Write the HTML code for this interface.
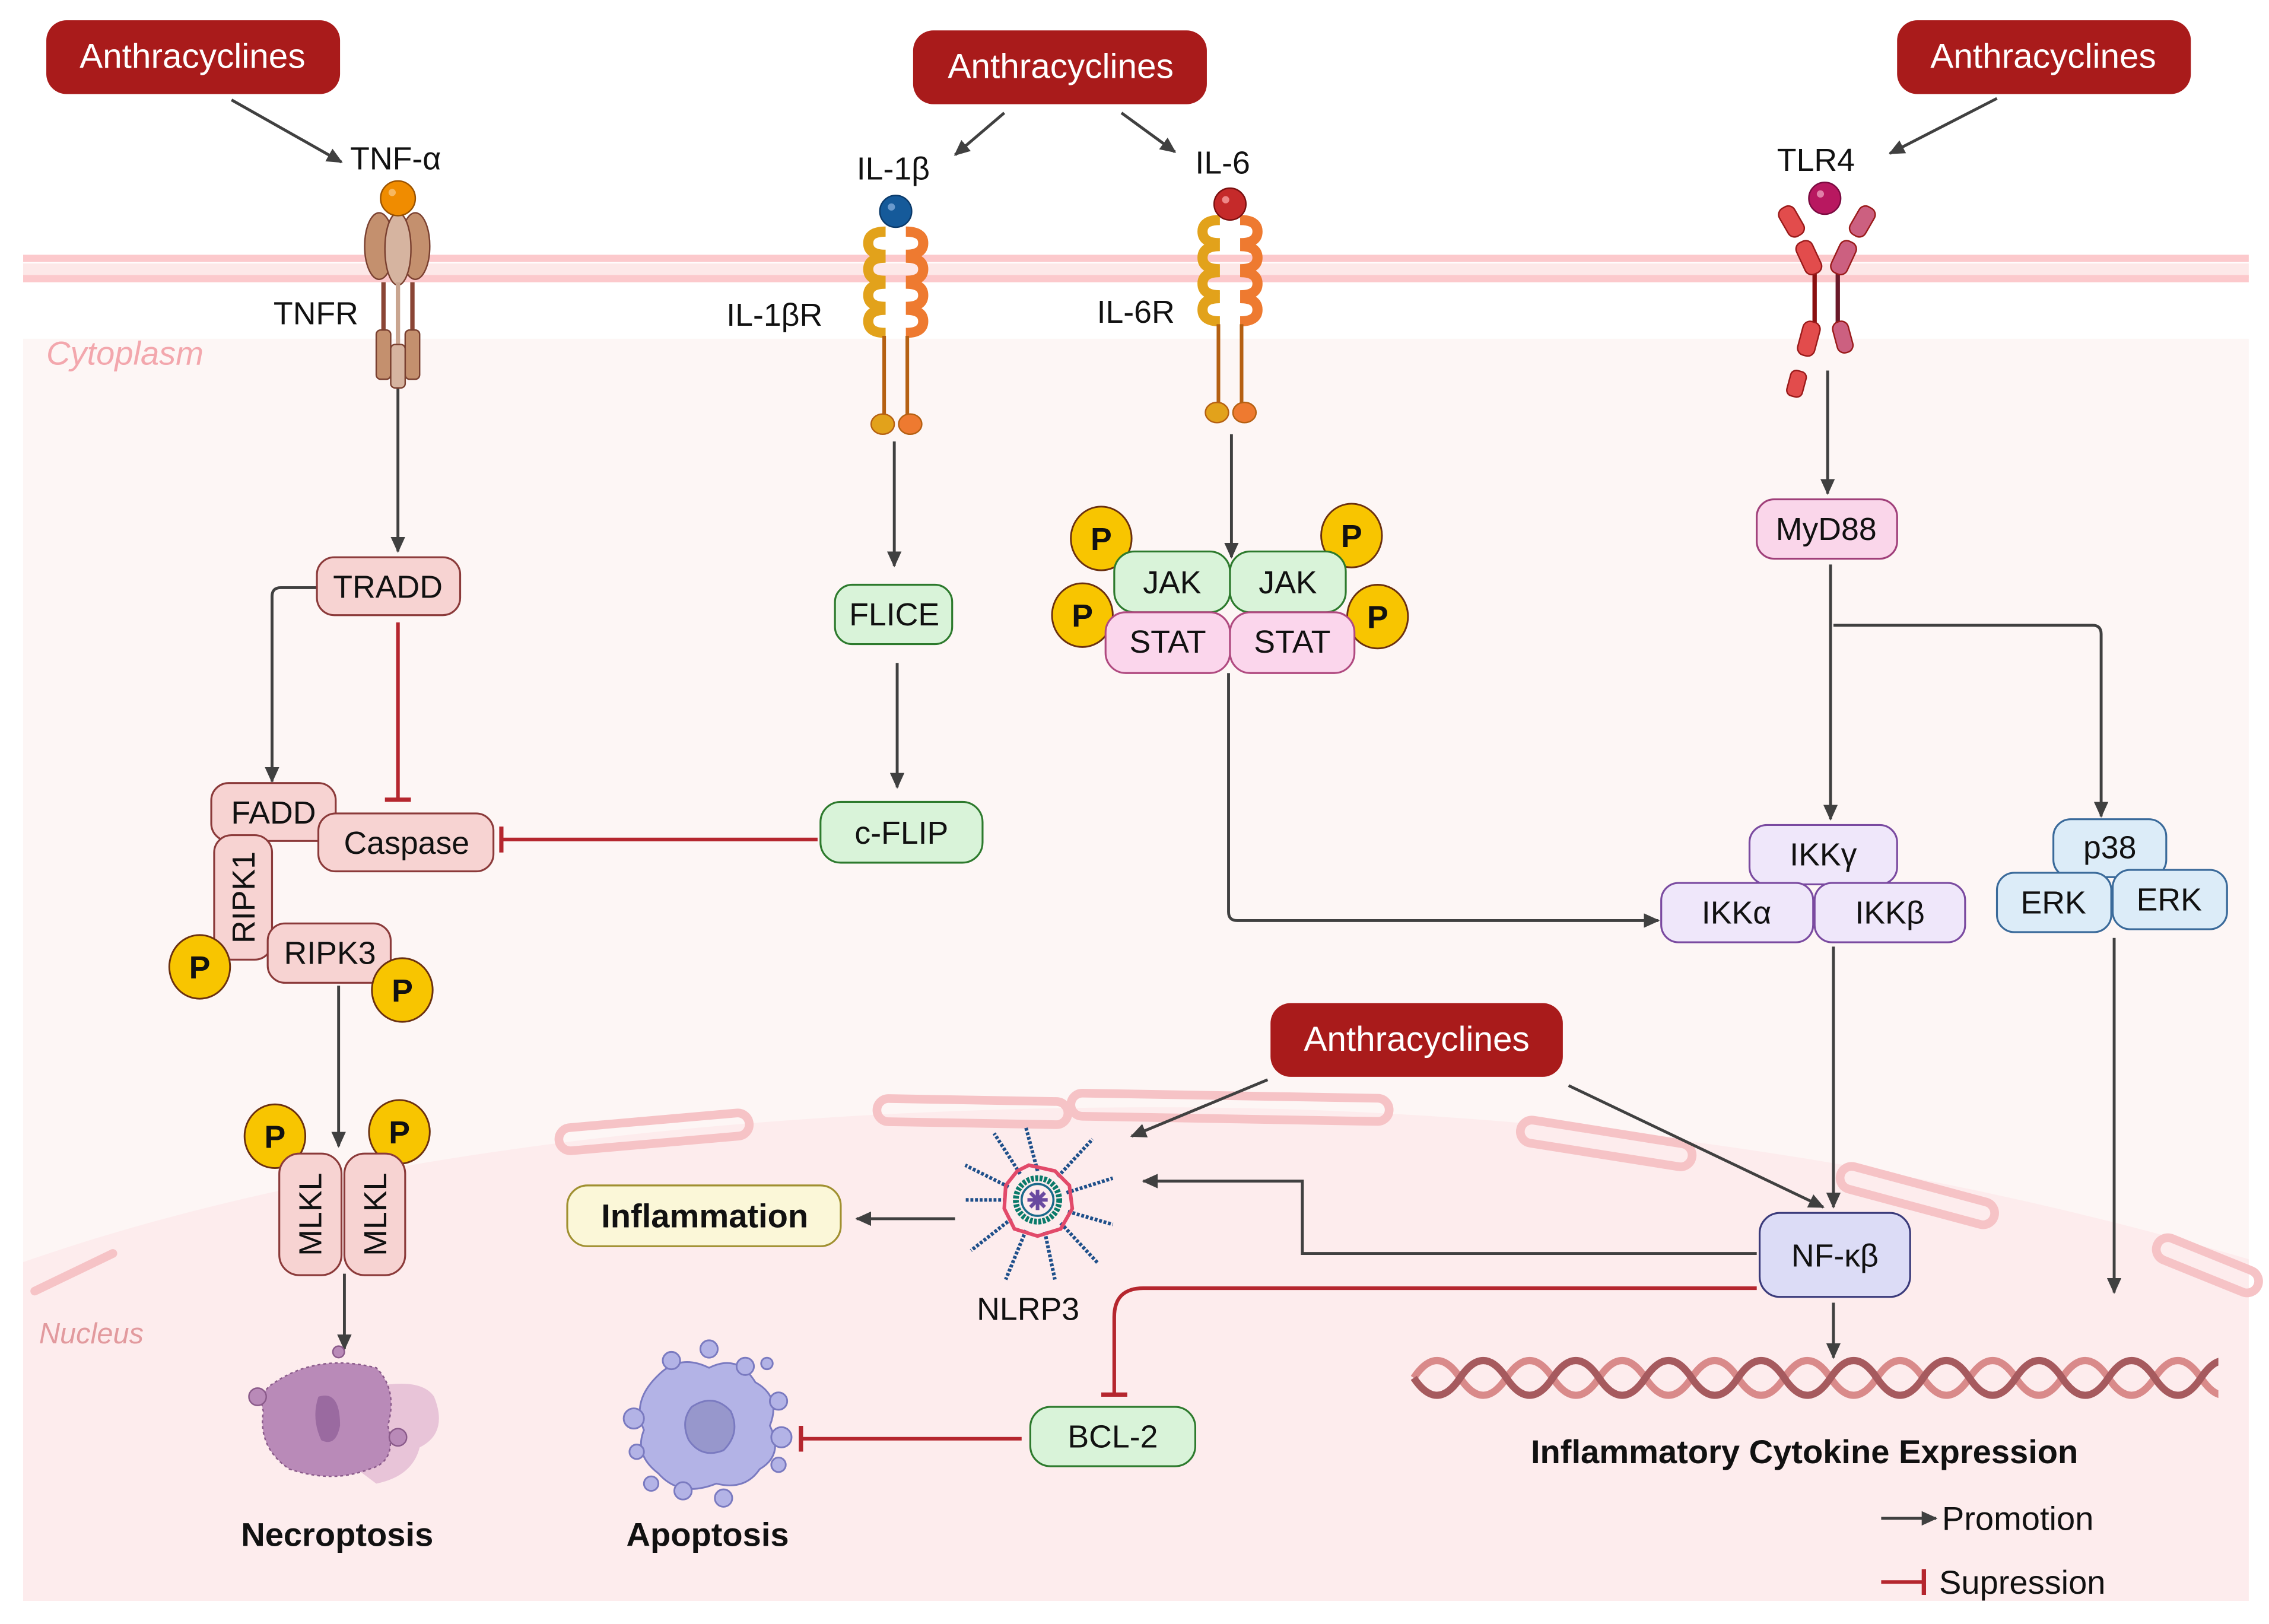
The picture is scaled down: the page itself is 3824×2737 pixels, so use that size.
<!DOCTYPE html>
<html><head><meta charset="utf-8"><style>
html,body{margin:0;padding:0;background:#fff}
svg{display:block}
text{font-family:"Liberation Sans",sans-serif}
</style></head><body>
<svg width="3824" height="2737" viewBox="0 0 1568 1122" preserveAspectRatio="none" xmlns="http://www.w3.org/2000/svg">
<defs>
<marker id="ar" markerWidth="12" markerHeight="10" refX="10" refY="5" orient="auto" markerUnits="userSpaceOnUse"><path d="M0,0 L11,5 L0,10 z" fill="#404040"/></marker>
<marker id="inh" markerWidth="4" markerHeight="18" refX="2" refY="9" orient="auto" markerUnits="userSpaceOnUse"><rect x="0" y="0" width="3" height="18" fill="#b5262e"/></marker>
<clipPath id="dnaclip"><rect x="975" y="920" width="558" height="60"/></clipPath>
</defs>
<rect width="1568" height="1122" fill="#fff"/>
<rect x="16" y="234" width="1538" height="872" fill="#fdf6f5"/>
<path d="M16,872 C250,790 550,765 800,765 C1100,765 1350,810 1554,870 L1554,1106 L16,1106 z" fill="#fdeced"/>
<g fill="none" stroke="#f6c3c6" stroke-width="6">
<path d="M24,892 L78,866" stroke-linecap="round"/>
<rect x="386" y="774" width="132" height="16" rx="8" transform="rotate(-5 452 782)"/>
<rect x="606" y="760" width="132" height="16" rx="8" transform="rotate(1 672 768)"/>
<rect x="740" y="757" width="220" height="16" rx="8" transform="rotate(1 850 765)"/>
<rect x="1050" y="782" width="120" height="16" rx="8" transform="rotate(9 1110 790)"/>
<rect x="1270" y="818" width="110" height="16" rx="8" transform="rotate(15 1325 826)"/>
<rect x="1488" y="866" width="75" height="16" rx="8" transform="rotate(22 1525 874)"/>
</g>
<rect x="16" y="182" width="1538" height="10" fill="#fde8e8"/>
<rect x="16" y="176" width="1538" height="5" fill="#fcc9cc"/>
<rect x="16" y="190" width="1538" height="5" fill="#fcc9cc"/>
<text x="32" y="252" font-size="23" font-style="italic" fill="#f3a7ad">Cytoplasm</text>
<text x="27" y="928" font-size="20" font-style="italic" fill="#e29a9e">Nucleus</text>

<g font-size="24" fill="#fff" text-anchor="middle">
<rect x="32" y="14" width="203" height="51" rx="14" fill="#a91b1b"/><text x="133" y="47">Anthracyclines</text>
<rect x="631" y="21" width="203" height="51" rx="14" fill="#a91b1b"/><text x="733" y="54">Anthracyclines</text>
<rect x="1311" y="14" width="203" height="51" rx="14" fill="#a91b1b"/><text x="1412" y="47">Anthracyclines</text>
<rect x="878" y="693" width="202" height="51" rx="14" fill="#a91b1b"/><text x="979" y="726">Anthracyclines</text>
</g>

<g stroke="#404040" stroke-width="2" fill="none" marker-end="url(#ar)">
<line x1="160" y1="69" x2="236" y2="112"/>
<line x1="694" y1="78" x2="660" y2="107"/>
<line x1="775" y1="78" x2="812" y2="105"/>
<line x1="1380" y1="68" x2="1306" y2="106"/>
<line x1="275" y1="268" x2="275" y2="381"/>
<path d="M219,406 L194,406 Q188,406 188,412 L188,540"/>
<line x1="618" y1="305" x2="618" y2="391"/>
<line x1="620" y1="458" x2="620" y2="544"/>
<line x1="851" y1="300" x2="851" y2="385"/>
<line x1="1263" y1="256" x2="1263" y2="341"/>
<line x1="1265" y1="390" x2="1265" y2="566"/>
<path d="M1267,432 L1446,432 Q1452,432 1452,438 L1452,564"/>
<path d="M849,465 L849,630 Q849,636 855,636 L1146,636"/>
<line x1="1267" y1="654" x2="1267" y2="834"/>
<line x1="1461" y1="648" x2="1461" y2="893"/>
<line x1="1084" y1="750" x2="1260" y2="834"/>
<line x1="876" y1="746" x2="782" y2="785"/>
<path d="M1214,866 L900,866 L900,816 L790,816"/>
<line x1="660" y1="842" x2="592" y2="842"/>
<line x1="1267" y1="900" x2="1267" y2="938"/>
<line x1="234" y1="681" x2="234" y2="792"/>
<line x1="238" y1="880" x2="238" y2="932"/>
<line x1="1300" y1="1049" x2="1338" y2="1049"/>
</g>
<g stroke="#b5262e" stroke-width="2.5" fill="none" marker-end="url(#inh)">
<line x1="275" y1="430" x2="275" y2="553"/>
<line x1="565" y1="580" x2="346" y2="580"/>
<path d="M1214,890 L790,890 Q770,890 770,910 L770,964"/>
<line x1="706" y1="994" x2="553" y2="994"/>
<line x1="1300" y1="1093" x2="1330" y2="1093"/>
</g>

<g stroke="#7a4030" stroke-width="1">
<ellipse cx="262" cy="170" rx="10" ry="23" fill="#c4906e"/>
<ellipse cx="287" cy="170" rx="10" ry="23" fill="#c4906e"/>
<ellipse cx="275" cy="172" rx="9" ry="25" fill="#d6b4a0"/>
<line x1="265" y1="195" x2="265" y2="232" stroke="#8a4535" stroke-width="3"/>
<line x1="285" y1="195" x2="285" y2="232" stroke="#8a4535" stroke-width="3"/>
<line x1="275" y1="195" x2="275" y2="240" stroke="#c9a590" stroke-width="3"/>
<rect x="260" y="228" width="10" height="34" rx="3" fill="#c4906e"/>
<rect x="280" y="228" width="10" height="34" rx="3" fill="#c4906e"/>
<rect x="270" y="238" width="10" height="30" rx="3" fill="#d6b4a0"/>
</g>
<circle cx="275" cy="137" r="12" fill="#f08c00" stroke="#9a5200"/>
<circle cx="271" cy="133" r="2.5" fill="#f7b860"/>

<g id="ilr" fill="none" stroke-width="7">
<path d="M612,160 Q600,160 600,168 Q600,176 612,176 M612,178 Q600,178 600,186 Q600,194 612,194 M612,196 Q600,196 600,204 Q600,212 612,212 M612,214 Q600,214 600,222 Q600,230 612,230" stroke="#e2a21b"/>
<path d="M626,160 Q638,160 638,168 Q638,176 626,176 M626,178 Q638,178 638,186 Q638,194 626,194 M626,196 Q638,196 638,204 Q638,212 626,212 M626,214 Q638,214 638,222 Q638,230 626,230" stroke="#ee7a30"/>
<line x1="611" y1="232" x2="611" y2="288" stroke="#b56012" stroke-width="2.5"/>
<line x1="627" y1="232" x2="627" y2="288" stroke="#b56012" stroke-width="2.5"/>
<ellipse cx="610" cy="293" rx="8" ry="7" fill="#e2a21b" stroke="#b56012" stroke-width="1"/>
<ellipse cx="629" cy="293" rx="8" ry="7" fill="#ee7a30" stroke="#b56012" stroke-width="1"/>
</g>
<circle cx="619" cy="146" r="11" fill="#155a9a" stroke="#0b3a6a"/>
<circle cx="616" cy="143" r="2.5" fill="#6a9acd"/>
<use href="#ilr" x="231" y="-8"/>
<circle cx="850" cy="141" r="11" fill="#c52a2a" stroke="#7a1010"/>
<circle cx="847" cy="138" r="2.5" fill="#e88"/>

<g stroke="#9a1a1a" stroke-width="1">
<line x1="1254" y1="185" x2="1254" y2="225" stroke="#8a0f0f" stroke-width="3"/>
<line x1="1270" y1="185" x2="1270" y2="225" stroke="#6a1a2a" stroke-width="3"/>
<rect x="1232" y="142" width="12" height="22" rx="5" fill="#e24c4c" transform="rotate(-30 1238 153)"/>
<rect x="1244" y="166" width="12" height="24" rx="5" fill="#e24c4c" transform="rotate(-25 1250 178)"/>
<rect x="1281" y="142" width="12" height="22" rx="5" fill="#cc6080" transform="rotate(30 1287 153)"/>
<rect x="1268" y="166" width="12" height="24" rx="5" fill="#cc6080" transform="rotate(25 1274 178)"/>
<rect x="1244" y="222" width="12" height="24" rx="5" fill="#e24c4c" transform="rotate(15 1250 234)"/>
<rect x="1268" y="222" width="11" height="22" rx="5" fill="#cc6080" transform="rotate(-15 1273 233)"/>
<rect x="1236" y="256" width="11" height="18" rx="4" fill="#e24c4c" transform="rotate(15 1241 265)"/>
</g>
<circle cx="1261" cy="137" r="11" fill="#b81860" stroke="#7a0a40"/>
<circle cx="1258" cy="134" r="2.5" fill="#e080a8"/>

<g font-size="22" fill="#111">
<text x="242" y="117">TNF-α</text>
<text x="189" y="224">TNFR</text>
<text x="592" y="124">IL-1β</text>
<text x="502" y="225">IL-1βR</text>
<text x="826" y="120">IL-6</text>
<text x="758" y="223">IL-6R</text>
<text x="1228" y="118">TLR4</text>
<text x="675" y="912">NLRP3</text>
</g>

<g font-size="22" fill="#111" text-anchor="middle" stroke-width="1.3">
<rect x="219" y="385" width="99" height="40" rx="12" fill="#f7d3d2" stroke="#8b3a3a"/><text x="268" y="413">TRADD</text>
<rect x="146" y="541" width="86" height="40" rx="12" fill="#f7d3d2" stroke="#8b3a3a"/><text x="189" y="569">FADD</text>
<rect x="148" y="577" width="40" height="86" rx="12" fill="#f7d3d2" stroke="#8b3a3a"/><text transform="translate(176 620) rotate(-90)">RIPK1</text>
<rect x="220" y="562" width="121" height="40" rx="12" fill="#f7d3d2" stroke="#8b3a3a"/><text x="281" y="590">Caspase</text>
<rect x="185" y="638" width="85" height="41" rx="12" fill="#f7d3d2" stroke="#8b3a3a"/><text x="228" y="666">RIPK3</text>
<rect x="577" y="404" width="81" height="41" rx="12" fill="#d9f3d9" stroke="#2d7a2d"/><text x="618" y="432">FLICE</text>
<rect x="567" y="554" width="112" height="42" rx="14" fill="#d9f3d9" stroke="#2d7a2d"/><text x="623" y="583">c-FLIP</text>
<rect x="712" y="972" width="114" height="41" rx="14" fill="#d9f3d9" stroke="#2d7a2d"/><text x="769" y="1000">BCL-2</text>
<rect x="1214" y="345" width="97" height="41" rx="12" fill="#fad6ea" stroke="#a0407a"/><text x="1262" y="373">MyD88</text>
<rect x="1209" y="570" width="102" height="41" rx="12" fill="#efe7fa" stroke="#7a4aa0"/><text x="1260" y="598">IKKγ</text>
<rect x="1148" y="610" width="105" height="41" rx="12" fill="#efe7fa" stroke="#7a4aa0"/><text x="1200" y="638">IKKα</text>
<rect x="1254" y="610" width="104" height="41" rx="12" fill="#efe7fa" stroke="#7a4aa0"/><text x="1306" y="638">IKKβ</text>
<rect x="1419" y="566" width="78" height="40" rx="12" fill="#dcecf8" stroke="#3a6a9a"/><text x="1458" y="593">p38</text>
<rect x="1380" y="603" width="79" height="41" rx="12" fill="#dcecf8" stroke="#3a6a9a"/><text x="1419" y="631">ERK</text>
<rect x="1460" y="601" width="79" height="41" rx="12" fill="#dcecf8" stroke="#3a6a9a"/><text x="1499" y="629">ERK</text>
<rect x="1216" y="838" width="104" height="58" rx="14" fill="#dcdcf6" stroke="#3a3a7a"/><text x="1268" y="875">NF-κβ</text>
</g>
<g stroke="#6a3010" stroke-width="1.2" fill="#f8c500">
<ellipse cx="761" cy="372" rx="21" ry="22"/><ellipse cx="934" cy="370" rx="21" ry="22"/>
<ellipse cx="748" cy="425" rx="21" ry="22"/><ellipse cx="952" cy="426" rx="21" ry="22"/>
<ellipse cx="138" cy="668" rx="21" ry="22"/><ellipse cx="278" cy="684" rx="21" ry="22"/>
<ellipse cx="190" cy="785" rx="21" ry="22"/><ellipse cx="276" cy="782" rx="21" ry="22"/>
</g>
<g font-size="22" fill="#111" text-anchor="middle" stroke-width="1.3">
<rect x="770" y="381" width="80" height="42" rx="14" fill="#d9f3d9" stroke="#2d7a2d"/><text x="810" y="410">JAK</text>
<rect x="850" y="381" width="80" height="42" rx="14" fill="#d9f3d9" stroke="#2d7a2d"/><text x="890" y="410">JAK</text>
<rect x="764" y="423" width="86" height="42" rx="14" fill="#fbd6ec" stroke="#b04a80"/><text x="807" y="451">STAT</text>
<rect x="850" y="423" width="86" height="42" rx="14" fill="#fbd6ec" stroke="#b04a80"/><text x="893" y="451">STAT</text>
<rect x="193" y="797" width="43" height="84" rx="14" fill="#f7d3d2" stroke="#8b3a3a"/><text transform="translate(222 839) rotate(-90)">MLKL</text>
<rect x="238" y="797" width="42" height="84" rx="14" fill="#f7d3d2" stroke="#8b3a3a"/><text transform="translate(267 839) rotate(-90)">MLKL</text>
</g>
<g font-size="22" font-weight="bold" fill="#111" text-anchor="middle">
<text x="761" y="380">P</text><text x="934" y="378">P</text><text x="748" y="433">P</text><text x="952" y="434">P</text>
<text x="138" y="676">P</text><text x="278" y="692">P</text><text x="190" y="793">P</text><text x="276" y="790">P</text>
</g>
<rect x="392" y="819" width="189" height="42" rx="14" fill="#fbf7d8" stroke="#a09030" stroke-width="1.3"/>
<text x="487" y="848" font-size="23" font-weight="bold" text-anchor="middle" fill="#111">Inflammation</text>

<g transform="translate(717 829)">
<g stroke="#1e4f8a" stroke-width="2.5" stroke-dasharray="2 1.2">
<line x1="0" y1="-20" x2="-8" y2="-50"/><line x1="14" y1="-16" x2="38" y2="-42"/><line x1="20" y1="-5" x2="52" y2="-15"/>
<line x1="21" y1="8" x2="52" y2="17"/><line x1="16" y1="16" x2="42" y2="44"/><line x1="5" y1="22" x2="12" y2="55"/>
<line x1="-8" y1="21" x2="-22" y2="55"/><line x1="-18" y1="13" x2="-46" y2="35"/><line x1="-22" y1="0" x2="-50" y2="0"/>
<line x1="-20" y1="-9" x2="-50" y2="-24"/><line x1="-12" y1="-18" x2="-30" y2="-46"/>
</g>
<polygon points="-6,-24 12,-20 22,-10 24,6 16,20 0,25 -16,20 -23,6 -22,-10 -14,-20" fill="none" stroke="#e24a6a" stroke-width="2.5"/>
<circle r="15" fill="none" stroke="#0a7a6a" stroke-width="4" stroke-dasharray="2 1"/>
<circle r="11" fill="#fdeced" stroke="#1a6a8a" stroke-width="1.5"/>
<g stroke="#6a4aa0" stroke-width="2.5"><line x1="-7" y1="0" x2="7" y2="0"/><line x1="0" y1="-7" x2="0" y2="7"/><line x1="-5" y1="-5" x2="5" y2="5"/><line x1="-5" y1="5" x2="5" y2="-5"/></g>
</g>

<g>
<path d="M250,960 Q290,950 300,965 Q310,990 290,1000 Q285,1020 260,1025 L240,1010 z" fill="#e8c4d8"/>
<path d="M190,955 Q220,935 260,945 Q275,960 268,985 Q275,1010 255,1015 Q230,1025 200,1015 Q178,1000 182,975 Q178,962 190,955 z" fill="#b98ab8" stroke="#8a5a8a" stroke-dasharray="2 2"/>
<path d="M220,965 Q235,960 235,985 Q232,1000 222,995 Q215,980 220,965 z" fill="#9a6aa0"/>
<circle cx="178" cy="965" r="6" fill="#b98ab8" stroke="#8a5a8a"/><circle cx="275" cy="993" r="6" fill="#b98ab8" stroke="#8a5a8a"/><circle cx="234" cy="934" r="4" fill="#b98ab8" stroke="#8a5a8a"/>
</g>
<g fill="#b3b3e6" stroke="#7a7ac0" stroke-width="1.2">
<path d="M455,950 Q470,935 490,945 Q510,935 522,955 Q540,965 532,985 Q542,1005 525,1015 Q515,1030 495,1025 Q470,1035 455,1018 Q438,1005 445,988 Q436,968 455,950 z"/>
<circle cx="464" cy="940" r="6"/><circle cx="490" cy="932" r="6"/><circle cx="515" cy="944" r="6"/><circle cx="530" cy="942" r="4"/>
<circle cx="438" cy="980" r="7"/><circle cx="538" cy="968" r="6"/><circle cx="540" cy="993" r="7"/><circle cx="440" cy="1003" r="5"/>
<circle cx="450" cy="1025" r="5"/><circle cx="472" cy="1030" r="6"/><circle cx="500" cy="1035" r="6"/><circle cx="538" cy="1012" r="5"/>
<path d="M478,972 Q493,962 505,975 Q512,990 500,1002 Q485,1008 476,995 Q470,982 478,972 z" fill="#9797cc"/>
</g>
<g font-size="23" font-weight="bold" fill="#111" text-anchor="middle">
<text x="233" y="1068">Necroptosis</text>
<text x="489" y="1068">Apoptosis</text>
<text x="1247" y="1011">Inflammatory Cytokine Expression</text>
</g>

<g fill="none" stroke-width="5" clip-path="url(#dnaclip)">
<path d="M977,952 q8,-12 16,-12 q8,0 16,12 q8,12 16,12 q8,0 16,-12 q8,-12 16,-12 q8,0 16,12 q8,12 16,12 q8,0 16,-12 q8,-12 16,-12 q8,0 16,12 q8,12 16,12 q8,0 16,-12 q8,-12 16,-12 q8,0 16,12 q8,12 16,12 q8,0 16,-12 q8,-12 16,-12 q8,0 16,12 q8,12 16,12 q8,0 16,-12 q8,-12 16,-12 q8,0 16,12 q8,12 16,12 q8,0 16,-12 q8,-12 16,-12 q8,0 16,12 q8,12 16,12 q8,0 16,-12 q8,-12 16,-12 q8,0 16,12 q8,12 16,12 q8,0 16,-12 q8,-12 16,-12 q8,0 16,12 q8,12 16,12 q8,0 16,-12 q8,-12 16,-12 q8,0 16,12 q8,12 16,12 q8,0 16,-12" stroke="#d98a8a"/>
<path d="M977,952 q8,12 16,12 q8,0 16,-12 q8,-12 16,-12 q8,0 16,12 q8,12 16,12 q8,0 16,-12 q8,-12 16,-12 q8,0 16,12 q8,12 16,12 q8,0 16,-12 q8,-12 16,-12 q8,0 16,12 q8,12 16,12 q8,0 16,-12 q8,-12 16,-12 q8,0 16,12 q8,12 16,12 q8,0 16,-12 q8,-12 16,-12 q8,0 16,12 q8,12 16,12 q8,0 16,-12 q8,-12 16,-12 q8,0 16,12 q8,12 16,12 q8,0 16,-12 q8,-12 16,-12 q8,0 16,12 q8,12 16,12 q8,0 16,-12 q8,-12 16,-12 q8,0 16,12 q8,12 16,12 q8,0 16,-12 q8,-12 16,-12 q8,0 16,12" stroke="#a65a5e"/>
</g>

<g font-size="23" fill="#111">
<text x="1342" y="1057">Promotion</text>
<text x="1340" y="1101">Supression</text>
</g>
</svg>
</body></html>
